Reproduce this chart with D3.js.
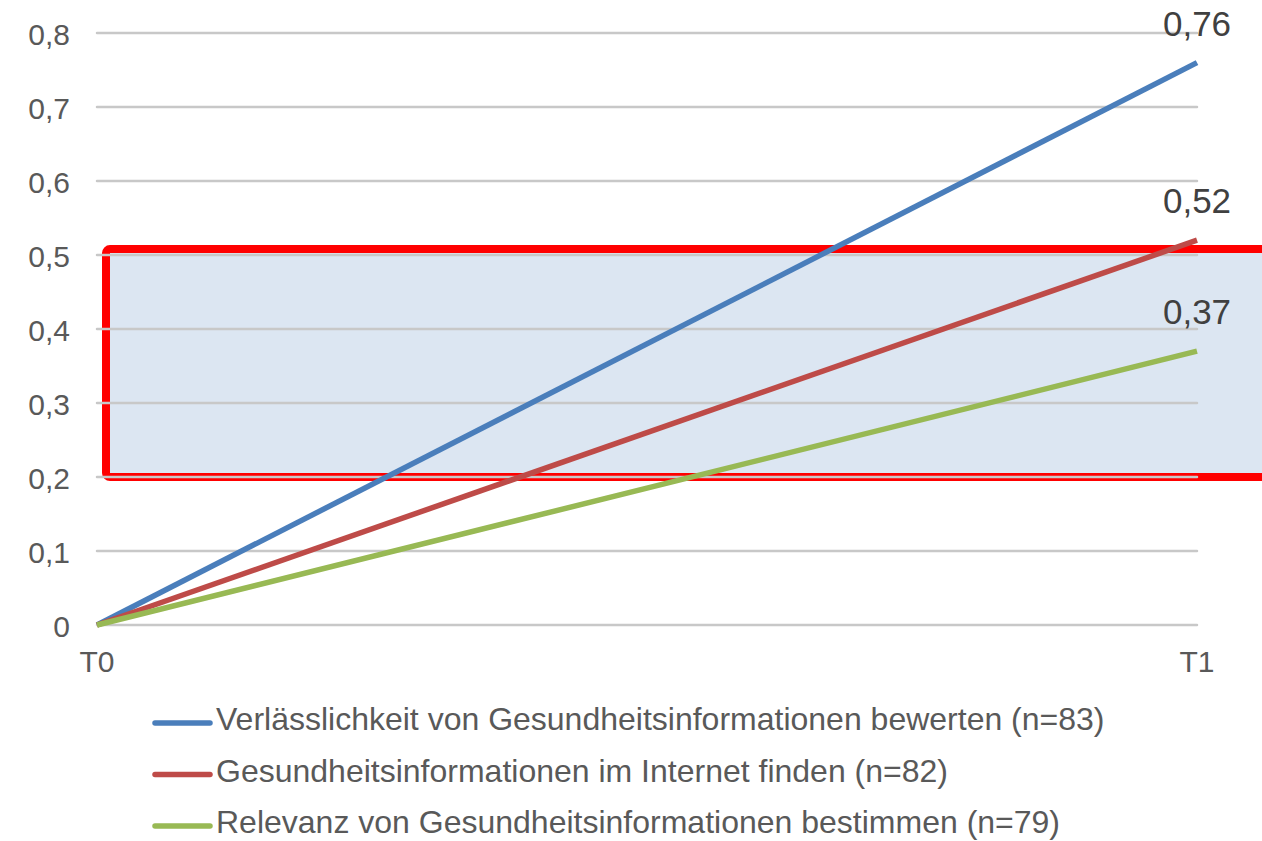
<!DOCTYPE html>
<head>
  <meta charset="utf-8">
  <title>Gesundheitskompetenz T0 - T1</title>
  <style>
    body { margin: 0; background: #fff; }
    text { font-family: "Liberation Sans", Arial, sans-serif; }
  </style>
</head>
<body>
<div id="chart"></div>
<script src="https://cdn.jsdelivr.net/npm/d3@7"></script>
<script>

var times = ["T0", "T1"];
var seriesNames = [
  "Verlässlichkeit von Gesundheitsinformationen bewerten (n=83)",
  "Gesundheitsinformationen im Internet finden (n=82)",
  "Relevanz von Gesundheitsinformationen bestimmen (n=79)"
];
var verlaesslichkeit = [0, 0.76];
var internetFinden = [0, 0.52];
var relevanz = [0, 0.37];
var endLabels = ["0,76", "0,52", "0,37"];
var yTicks = [0, 0.1, 0.2, 0.3, 0.4, 0.5, 0.6, 0.7, 0.8];
var highlightBand = [0.2, 0.508];

var colors = ["#4a7ebb", "#be4b48", "#98b954"];
var series = [verlaesslichkeit, internetFinden, relevanz];

var width = 1262, height = 841;

var svg = d3.select("#chart").append("svg")
    .attr("width", width)
    .attr("height", height);

var x = d3.scalePoint()
    .domain(times)
    .range([97, 1197]);

var y = d3.scaleLinear()
    .domain([0, 0.8])
    .range([625, 33]);

// highlighted area (drawn first, grid goes over it)
svg.append("rect")
    .attr("x", x("T0") + 9)
    .attr("y", y(highlightBand[1]))
    .attr("width", width + 20 - (x("T0") + 9))
    .attr("height", y(highlightBand[0]) - y(highlightBand[1]))
    .attr("rx", 4)
    .attr("fill", "#dce6f2")
    .attr("stroke", "#ff0000")
    .attr("stroke-width", 8);

// gridlines
svg.append("g")
  .selectAll("line")
  .data(yTicks)
  .enter()
  .append("line")
    .attr("x1", x("T0"))
    .attr("x2", x("T1"))
    .attr("y1", function(d) { return y(d); })
    .attr("y2", function(d) { return y(d); })
    .attr("stroke", "#c8c8c8")
    .attr("stroke-width", 2.5)
    .attr("stroke-linecap", "round");

// y tick labels
svg.append("g")
  .selectAll("text")
  .data(yTicks)
  .enter()
  .append("text")
    .attr("x", 70)
    .attr("y", function(d) { return y(d) + 12; })
    .attr("text-anchor", "end")
    .style("font-size", "30px")
    .style("fill", "#595959")
    .text(function(d) { return d === 0 ? "0" : d3.format(".1f")(d).replace(".", ","); });

// x tick labels
svg.append("g")
  .selectAll("text")
  .data(times)
  .enter()
  .append("text")
    .attr("x", function(d) { return x(d); })
    .attr("y", 672)
    .attr("text-anchor", "middle")
    .style("font-size", "30px")
    .style("fill", "#595959")
    .text(function(d) { return d; });

var line = d3.line()
    .x(function(d, i) { return x(times[i]); })
    .y(function(d) { return y(d); });

svg.append("g")
  .selectAll("path")
  .data(series)
  .enter()
  .append("path")
    .attr("d", line)
    .attr("fill", "none")
    .attr("stroke", function(d, i) { return colors[i]; })
    .attr("stroke-width", 5.5);

// value labels at T1
svg.append("g")
  .selectAll("text")
  .data(series)
  .enter()
  .append("text")
    .attr("x", x("T1"))
    .attr("y", function(d) { return y(d[1]) - 27; })
    .attr("text-anchor", "middle")
    .style("font-size", "35px")
    .style("fill", "#404040")
    .text(function(d, i) { return endLabels[i]; });

// legend
var legend = svg.append("g")
  .selectAll("g")
  .data(seriesNames)
  .enter()
  .append("g")
    .attr("transform", function(d, i) { return "translate(155," + (723 + i * 51.5) + ")"; });

legend.append("line")
    .attr("x1", 0)
    .attr("x2", 55)
    .attr("stroke", function(d, i) { return colors[i]; })
    .attr("stroke-width", 5.5)
    .attr("stroke-linecap", "round");

legend.append("text")
    .attr("x", 61)
    .attr("y", 7)
    .style("font-size", "32px")
    .style("fill", "#595959")
    .text(function(d) { return d; });

</script>
</body>
</html>
